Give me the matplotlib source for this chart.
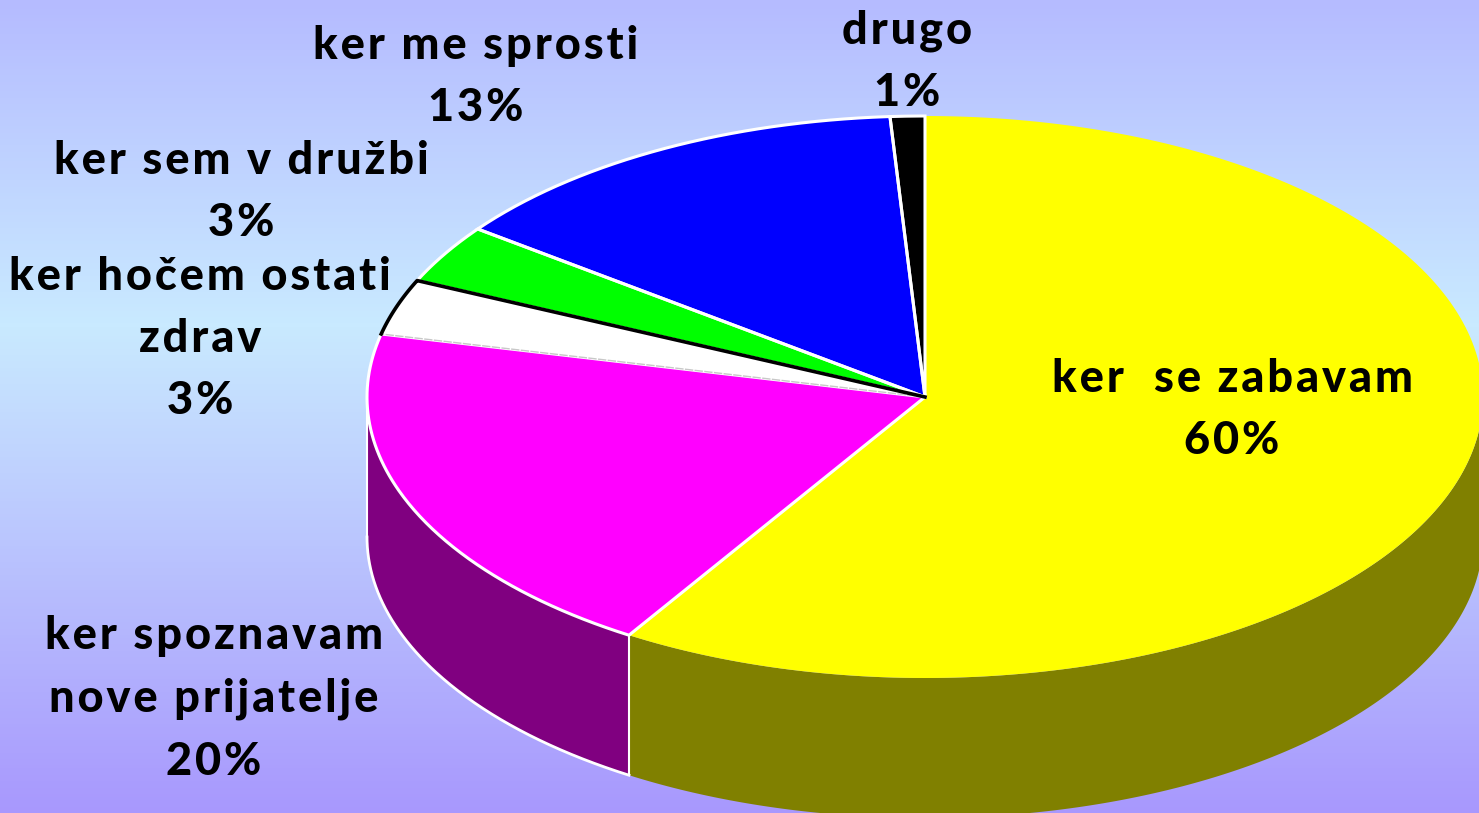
import matplotlib
matplotlib.use("Agg")
import matplotlib.pyplot as plt
import numpy as np
from matplotlib.colors import LinearSegmentedColormap

# slices clockwise from 12 o'clock, shares as measured on the picture
names = ["ker  se zabavam\n60%", "ker spoznavam\nnove prijatelje\n20%",
         "ker hočem ostati\nzdrav\n3%", "ker sem v družbi\n3%",
         "ker me sprosti\n13%", "drugo\n1%"]
shares = [58.9, 19.7, 3.2, 3.4, 13.8, 1.0]
top_colors = ["#ffff00", "#ff00ff", "#ffffff", "#00ff00", "#0000ff", "#000000"]
side_colors = ["#808000", "#800080", "#808080", "#008000", "#000080", "#000000"]
edge_colors = ["none", "#ffffff", "none", "#ffffff", "#ffffff", "#ffffff"]

label_x = [1232, 214, 200, 241, 476, 907]
label_y = [410, 699, 339, 192, 77, 62]

cx, cy, rx, ry, depth = 925, 397, 558, 281, 140


def ell(theta):
    return cx + rx * np.sin(theta), cy - ry * np.cos(theta)


def spaced(s):
    # hair space between letters, the labels are tracked out
    return "\n".join("\u200a".join(line) for line in s.split("\n"))


fig = plt.figure(figsize=(14.79, 8.13), dpi=100)
ax = fig.add_axes([0, 0, 1, 1])
ax.set_xlim(0, 1479)
ax.set_ylim(813, 0)
ax.axis("off")

# background
bg = LinearSegmentedColormap.from_list("bg", [(0, "#b5bbff"), (0.4, "#c9eaff"), (1, "#a898fd")])
ax.imshow(np.linspace(0, 1, 256).reshape(-1, 1), cmap=bg, extent=(0, 1479, 813, 0), aspect="auto", zorder=0)

edges = np.radians(np.concatenate([[0], np.cumsum(shares)]) * 3.6)

# side wall, only the front half of the ellipse is visible
for i in range(len(shares)):
    a = max(edges[i], np.pi / 2)
    b = min(edges[i + 1], 3 * np.pi / 2)
    if a >= b:
        continue
    t = np.linspace(a, b, 200)
    x, y = ell(t)
    xs = np.concatenate([x, x[::-1]])
    ys = np.concatenate([y, y[::-1] + depth])
    ax.fill(xs, ys, color=side_colors[i], lw=0, zorder=2)
    if edge_colors[i] != "none":
        ax.plot(x, y + depth, color=edge_colors[i], lw=2, zorder=3)
        ax.plot([x[0], x[0]], [y[0], y[0] + depth], color=edge_colors[i], lw=1.5, zorder=3)
        ax.plot([x[-1], x[-1]], [y[-1], y[-1] + depth], color=edge_colors[i], lw=1.5, zorder=3)

# top face
for i in range(len(shares)):
    t = np.linspace(edges[i], edges[i + 1], 200)
    x, y = ell(t)
    xs = np.concatenate([[cx], x, [cx]])
    ys = np.concatenate([[cy], y, [cy]])
    ax.fill(xs, ys, color=top_colors[i], lw=0, zorder=4)
    if edge_colors[i] != "none":
        ax.plot(xs, ys, color=edge_colors[i], lw=2.2, zorder=5, solid_joinstyle="miter")

# the white slice has a black outline on its upper side
t = np.linspace(edges[2], edges[3], 60)
x, y = ell(t)
ax.plot([cx, x[0]], [cy, y[0]], color="#c8c8c8", lw=1, ls=(0, (6, 1)), zorder=6)
ax.plot(np.concatenate([x, [cx]]), np.concatenate([y, [cy]]), color="#000000", lw=2.6, zorder=6)

for name, lx, ly in zip(names, label_x, label_y):
    ax.text(lx, ly, spaced(name), ha="center", va="center", fontsize=32.5, fontweight="black",
            family=["Lato", "DejaVu Sans"], color="#000000", linespacing=1.6, zorder=7)

fig.savefig("out.png", dpi=100)
